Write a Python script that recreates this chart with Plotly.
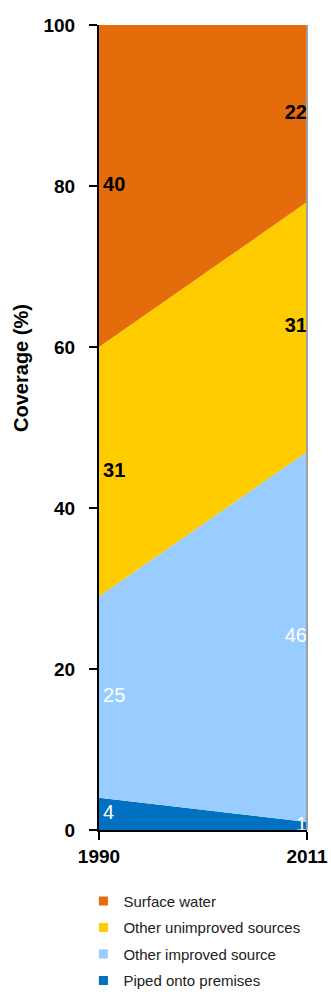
import plotly.graph_objects as go
import numpy as np

years = [1990, 2011]
series_names = ["Piped onto premises", "Other improved source",
                "Other unimproved sources", "Surface water"]
piped = [4, 1]
other_improved = [25, 46]
other_unimproved = [31, 31]
surface = [40, 22]
colors = ["#0070C0", "#99CCFF", "#FFCC00", "#E46C0A"]
label_colors = ["white", "white", "black", "black"]
y_ticks = [0, 20, 40, 60, 80, 100]

series = [piped, other_improved, other_unimproved, surface]

fig = go.Figure()
for name, vals, col in zip(series_names, series, colors):
    fig.add_trace(go.Scatter(
        x=years, y=vals, name=name, stackgroup="one", mode="lines",
        line=dict(width=0, color=col), fillcolor=col, showlegend=False,
        hoverinfo="skip"))

# data labels at the middle of each band
cum = np.cumsum(np.array(series), axis=0)
for i, (vals, lc) in enumerate(zip(series, label_colors)):
    mids = cum[i] - np.array(vals) / 2.0
    bold = lc == "black"
    txt = [f"<b>{v}</b>" if bold else str(v) for v in vals]
    fig.add_trace(go.Scatter(
        x=[years[0]], y=[mids[0]], mode="text", text=["\u2009" + txt[0]],
        textposition="middle right", showlegend=False, hoverinfo="skip",
        textfont=dict(family="Liberation Sans, Arial", size=20, color=lc)))
    fig.add_trace(go.Scatter(
        x=[years[1]], y=[mids[1]], mode="text", text=[txt[1]],
        textposition="middle left", showlegend=False, hoverinfo="skip",
        textfont=dict(family="Liberation Sans, Arial", size=20, color=lc)))

# legend entries (square markers), top-down: Surface water first
for name, col in reversed(list(zip(series_names, colors))):
    fig.add_trace(go.Scatter(
        x=[None], y=[None], mode="markers", name=name,
        marker=dict(symbol="square", size=9, color=col),
        legendgroup=name, showlegend=True))

fig.update_layout(
    width=331, height=992,
    margin=dict(l=99, r=24, t=25, b=162, autoexpand=False),
    paper_bgcolor="white", plot_bgcolor="white",
    font=dict(family="Liberation Sans, Arial", color="black"),
    showlegend=True,
    legend=dict(
        x=-0.075, y=-0.068, xanchor="left", yanchor="top",
        traceorder="grouped", tracegroupgap=4,
        itemwidth=30,
        font=dict(family="Liberation Sans, Arial", size=15, color="#222222"),
        bgcolor="rgba(0,0,0,0)"),
    xaxis=dict(
        range=[1990, 2011], tickvals=years, ticktext=[str(y) for y in years],
        ticks="outside", ticklen=8, tickwidth=2, tickcolor="black",
        showline=True, linecolor="black", linewidth=2,
        showgrid=False, zeroline=False,
        tickfont=dict(family="Liberation Sans, Arial", size=19, color="black", weight="bold")),
    yaxis=dict(
        range=[0, 100], tickvals=y_ticks,
        ticks="outside", ticklen=8, tickwidth=2, tickcolor="black",
        showline=True, linecolor="black", linewidth=2,
        showgrid=False, zeroline=False, ticklabelstandoff=10,
        tickfont=dict(family="Liberation Sans, Arial", size=19, color="black", weight="bold")),
    shapes=[dict(type="line", xref="paper", yref="paper", x0=1, x1=1, y0=0, y1=1,
                 line=dict(color="#A0A0A0", width=2))],
    annotations=[dict(text="<b>Coverage (%)</b>", textangle=-90,
                      xref="paper", yref="paper", x=-0.375, y=0.574,
                      xanchor="center", yanchor="middle",
                      showarrow=False,
                      font=dict(family="Liberation Sans, Arial", size=20, color="black"))],
)

fig.write_html("out.html")
